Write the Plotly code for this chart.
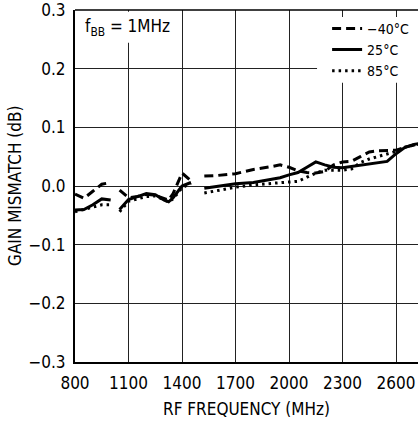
import plotly.graph_objects as go

freq = [800, 850, 900, 950, 1000, 1025, 1050, 1100, 1150, 1200, 1250, 1300, 1325, 1350, 1400, 1450, 1490,
        1525, 1600, 1700, 1800, 1900, 1950, 2000, 2050, 2100, 2150, 2200, 2250, 2300, 2350, 2400, 2450,
        2500, 2550, 2600, 2650, 2700, 2750]

m40 = [-0.014, -0.021, -0.009, 0.003, 0.006, None, -0.007, -0.020, -0.018, -0.014, -0.016, -0.022, -0.024,
       -0.013, 0.022, 0.009, None,
       0.017, 0.018, 0.021, 0.028, 0.033, 0.036, 0.032, 0.026, 0.023, 0.022, 0.025, 0.036, 0.041, 0.042,
       0.050, 0.058, 0.060, 0.060, 0.061, 0.066, 0.070, 0.072]

t25 = [-0.041, -0.040, -0.032, -0.022, -0.024, None, -0.040, -0.023, -0.018, -0.013, -0.015, -0.024, -0.027,
       -0.020, 0.000, 0.006, None,
       -0.004, -0.001, 0.004, 0.006, 0.011, 0.014, 0.019, 0.023, 0.032, 0.041, 0.036, 0.032, 0.031, 0.033,
       0.035, 0.037, 0.039, 0.042, 0.055, 0.066, 0.071, 0.073]

t85 = [-0.044, -0.040, -0.037, -0.032, -0.032, None, -0.044, -0.026, -0.022, -0.018, -0.017, -0.024, -0.027,
       -0.022, -0.003, 0.005, None,
       -0.012, -0.008, -0.002, 0.002, 0.004, 0.006, 0.006, 0.008, 0.015, 0.022, 0.027, 0.027, 0.027, 0.029,
       0.040, 0.046, 0.050, 0.054, 0.059, 0.066, 0.070, 0.072]

x_ticks = [800, 1100, 1400, 1700, 2000, 2300, 2600]
y_ticks = [-0.3, -0.2, -0.1, 0.0, 0.1, 0.2, 0.3]
y_labels = ["\u22120.3", "\u22120.2", "\u22120.1", "0.0", "0.1", "0.2", "0.3"]

FONT = "DejaVu Sans Condensed, Liberation Sans Narrow, Roboto, sans-serif"

fig = go.Figure()
fig.add_trace(go.Scatter(x=freq, y=m40, mode="lines", name="\u221240\u00b0C",
                         line=dict(color="black", width=3, dash="9px,5px"), connectgaps=False))
fig.add_trace(go.Scatter(x=freq, y=t25, mode="lines", name="25\u00b0C",
                         line=dict(color="black", width=3), connectgaps=False))
fig.add_trace(go.Scatter(x=freq, y=t85, mode="lines", name="85\u00b0C",
                         line=dict(color="black", width=3, dash="2.5px,4px"), connectgaps=False))

fig.update_layout(
    width=418, height=423,
    margin=dict(l=75, r=0, t=10, b=61, autoexpand=False),
    paper_bgcolor="white", plot_bgcolor="white",
    font=dict(family=FONT, size=17, color="black"),
    showlegend=True,
    legend=dict(x=0.735, y=0.992, xanchor="left", yanchor="top",
                bgcolor="rgba(0,0,0,0)", font=dict(size=14), tracegroupgap=0,
                itemwidth=30),
    xaxis=dict(range=[800, 2723], tickvals=x_ticks, ticktext=[str(v) for v in x_ticks],
               showgrid=True, gridcolor="#222", gridwidth=1, zeroline=False,
               showline=True, linecolor="black", linewidth=2, mirror=False,
               ticks="", ticklen=0, automargin=False, ticklabelstandoff=5,
               ticklabeloverflow="allow",
               title=dict(text="RF FREQUENCY (MHz)", font=dict(size=17), standoff=11),
               tickfont=dict(size=17)),
    yaxis=dict(range=[-0.3, 0.3], tickvals=y_ticks, ticktext=y_labels,
               showgrid=True, gridcolor="#222", gridwidth=1, zeroline=False,
               showline=True, linecolor="black", linewidth=2,
               ticks="", ticklen=0, automargin=False, ticklabelstandoff=4,
               ticklabeloverflow="allow",
               tickfont=dict(size=17)),
    shapes=[
        dict(type="line", xref="paper", yref="paper", x0=0, x1=1, y0=1, y1=1,
             line=dict(color="black", width=1.5), layer="above"),
        dict(type="rect", xref="x", yref="y", x0=2157, x1=2800, y0=0.176, y1=0.288,
             fillcolor="white", line=dict(width=0), layer="between"),
        dict(type="rect", xref="x", yref="y", x0=805, x1=1340, y0=0.244, y1=0.297,
             fillcolor="white", line=dict(width=0), layer="between"),
    ],
    annotations=[
        dict(text="f<sub>BB</sub> = 1MHz", xref="paper", yref="paper", x=0.023, y=0.949,
             xanchor="left", yanchor="middle", showarrow=False, font=dict(size=17)),
        dict(text="GAIN MISMATCH (dB)", xref="paper", yref="paper", x=-0.175, y=0.5,
             xanchor="center", yanchor="middle", textangle=-90, showarrow=False,
             font=dict(size=17)),
    ],
)

# remove the default 8px page margin so the 418x423 figure fills the window exactly
fig.write_html("out.html", config={"displayModeBar": False},
               post_script="document.body.style.margin='0';")
